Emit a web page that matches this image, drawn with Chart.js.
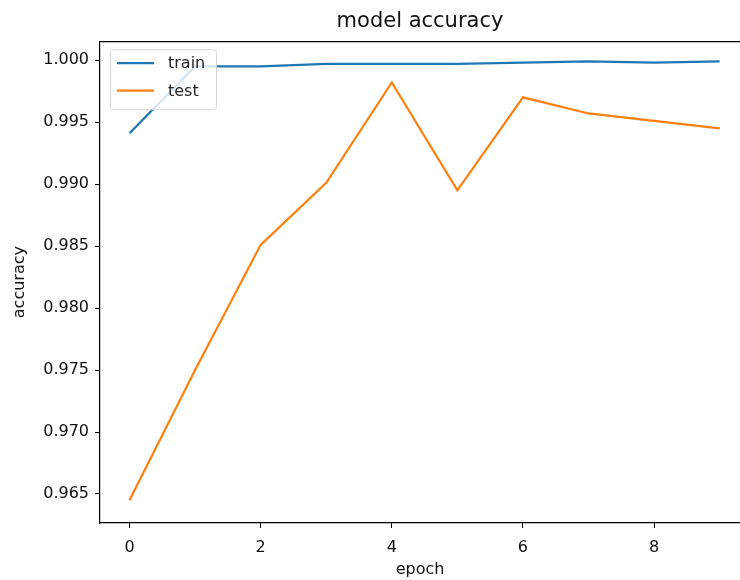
<!DOCTYPE html>
<html>
<head>
<meta charset="utf-8">
<script src="https://cdn.jsdelivr.net/npm/chart.js@4.4.0/dist/chart.umd.min.js"></script>
<style>
  html, body { margin: 0; padding: 0; background: #fff; }
  #wrap { width: 740px; height: 580px; position: relative; }
</style>
</head>
<body>
<div id="wrap"><canvas id="acc-chart"></canvas></div>
<script>
// Values.
const epochs    = [0, 1, 2, 3, 4, 5, 6, 7, 8, 9];
const trainAcc  = [0.9941, 0.9995, 0.9995, 0.9997, 0.9997, 0.9997, 0.9998, 0.9999, 0.9998, 0.9999];
const testAcc   = [0.9645, 0.9750, 0.9851, 0.9901, 0.9982, 0.9895, 0.9970, 0.9957, 0.9951, 0.9945];
const xTicks    = [0, 2, 4, 6, 8];
const yTicks    = [0.965, 0.970, 0.975, 0.980, 0.985, 0.990, 0.995, 1.000];

const FONT = "'DejaVu Sans', sans-serif";

// Top spine (right one is cropped out of the picture).
const topSpine = {
    id: 'topSpine',
    afterDraw(chart) {
        const a = chart.chartArea, c = chart.ctx;
        c.save();
        c.strokeStyle = '#000';
        c.lineWidth = 1.2;
        c.beginPath();
        c.moveTo(a.left, a.top + 0.5);
        c.lineTo(a.right, a.top + 0.5);
        c.stroke();
        c.restore();
    }
};

// Matplotlib-style legend box inside the upper left corner.
const boxLegend = {
    id: 'boxLegend',
    afterDatasetsDraw(chart) {
        const c = chart.ctx, a = chart.chartArea;
        const x = a.left + 10, y = a.top + 8, w = 106, h = 60;
        c.save();
        c.fillStyle = 'rgba(255,255,255,0.8)';
        c.strokeStyle = '#d6d6d6';
        c.lineWidth = 1;
        c.beginPath();
        c.roundRect(x + 0.5, y + 0.5, w, h, 3);
        c.fill();
        c.stroke();
        c.font = '16px ' + FONT;
        c.textBaseline = 'middle';
        chart.data.datasets.forEach((ds, i) => {
            const ly = y + 14 + i * 27.5;
            c.strokeStyle = ds.borderColor;
            c.lineWidth = 2.2;
            c.beginPath();
            c.moveTo(x + 7, ly);
            c.lineTo(x + 44, ly);
            c.stroke();
            c.fillStyle = '#262626';
            c.fillText(ds.label, x + 58, ly + 1);
        });
        c.restore();
    }
};

new Chart(document.getElementById('acc-chart'), {
    type: 'line',
    data: {
        datasets: [{
            label: 'train',
            data: epochs.map((e, i) => ({ x: e, y: trainAcc[i] })),
            borderColor: '#1f77b4',
            borderWidth: 2.2,
            pointRadius: 0,
            tension: 0
        }, {
            label: 'test',
            data: epochs.map((e, i) => ({ x: e, y: testAcc[i] })),
            borderColor: '#ff7f0e',
            borderWidth: 2.2,
            pointRadius: 0,
            tension: 0
        }]
    },
    options: {
        responsive: true,
        maintainAspectRatio: false,
        animation: false,
        layout: { padding: 0 },
        plugins: {
            legend: { display: false },
            tooltip: { enabled: false },
            title: {
                display: true,
                fullSize: false,
                text: 'model accuracy',
                color: '#111',
                font: { family: FONT, size: 21, weight: 'normal' },
                padding: { top: 9, bottom: 7 }
            }
        },
        scales: {
            x: {
                type: 'linear',
                min: -0.45,
                max: 9.31,
                afterBuildTicks: s => { s.ticks = xTicks.map(v => ({ value: v })); },
                afterFit: s => { s.height = 57; },
                border: { color: '#000', width: 1.2 },
                grid: { drawOnChartArea: false, tickLength: 5, color: '#000', tickWidth: 1 },
                ticks: { color: '#111', padding: 10, font: { family: FONT, size: 16 }, maxRotation: 0 },
                title: {
                    display: true,
                    text: 'epoch',
                    color: '#111',
                    font: { family: FONT, size: 16 },
                    padding: { top: 0, bottom: 1 }
                }
            },
            y: {
                min: 0.96266,
                max: 1.00153,
                afterBuildTicks: s => { s.ticks = yTicks.map(v => ({ value: v })); },
                afterFit: s => { s.width = 100; },
                border: { color: '#000', width: 1.2 },
                grid: { drawOnChartArea: false, tickLength: 5, color: '#000', tickWidth: 1 },
                ticks: {
                    color: '#111',
                    padding: 6,
                    font: { family: FONT, size: 16 },
                    callback: v => v.toFixed(3)
                },
                title: {
                    display: true,
                    text: 'accuracy',
                    color: '#111',
                    font: { family: FONT, size: 16 },
                    padding: { top: 10, bottom: 0 }
                }
            }
        }
    },
    plugins: [topSpine, boxLegend]
});
</script>
</body>
</html>
